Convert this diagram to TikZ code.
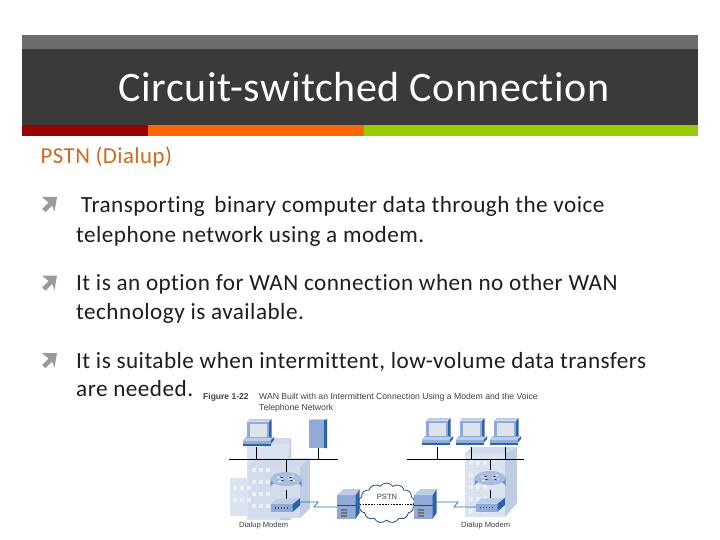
\documentclass[tikz,border=0pt]{standalone}
\usepackage{fontspec}
\setmainfont[Ligatures=NoCommon]{Carlito}
\newfontfamily\spacedbody[Ligatures=NoCommon,LetterSpace=2]{Carlito}
\newfontfamily\spacedtitle[Ligatures=NoCommon,LetterSpace=1.2]{Carlito}
\newfontfamily\spacedsub[Ligatures=NoCommon,LetterSpace=2]{Carlito}
\newfontfamily\figfont{Liberation Sans}
\usetikzlibrary{shapes.symbols,calc}
\definecolor{hdrtop}{HTML}{6D6D6D}
\definecolor{hdr}{HTML}{3A3A3A}
\definecolor{barred}{HTML}{990000}
\definecolor{barorange}{HTML}{FF6600}
\definecolor{bargreen}{HTML}{99CC00}
\definecolor{subtitle}{HTML}{D2691E}
\definecolor{bulletgray}{HTML}{9A9A9A}
\definecolor{bodytext}{HTML}{1E1E1E}
\definecolor{devfront}{HTML}{8FAAD6}
\definecolor{devside}{HTML}{2F62A8}
\definecolor{devtop}{HTML}{BCCDE6}
\definecolor{screen}{HTML}{DDE3EA}
\definecolor{bldfront}{HTML}{DCE3F0}
\definecolor{bldside}{HTML}{BECCE4}
\definecolor{bldtop}{HTML}{D0DAEC}
\definecolor{wan}{HTML}{2F6FA8}
\tikzset{
 x=1pt,y=-1pt,
 body/.style={anchor=base west,inner sep=0pt,text=bodytext,font=\spacedbody\fontsize{23.2}{27}\selectfont},
 figlabel/.style={anchor=base west,inner sep=0pt,text=black!75,font=\figfont\fontsize{8.65}{10}\selectfont},
 smalllabel/.style={anchor=base west,inner sep=0pt,text=black!75,font=\figfont\fontsize{7.6}{9}\selectfont},
 bus/.style={line width=1pt,black},
 drop/.style={line width=0.8pt,black},
 serial/.style={line width=0.7pt,wan},
 pics/bullet/.style={code={
   \fill[bulletgray] (-7.5,-7.5) -- (7.5,-7.5) -- (5,7) -- (2.6,1) -- (-4,7.5) -- (-7.5,4.5) -- (-1,-2) -- cycle;
 }},
 pics/pc/.style={code={
   \fill[devfront] (-11,-15.5) rectangle (11,3);
   \fill[devside] (11,-15.5) -- (13.5,-18) -- (13.5,1) -- (11,3) -- cycle;
   \fill[devtop] (-11,-15.5) -- (-8.5,-18) -- (13.5,-18) -- (11,-15.5) -- cycle;
   \fill[screen] (-8.5,-13.5) rectangle (8.5,0.5);
   \fill[devfront] (-15,4) -- (-12,0) -- (12.5,0) -- (12.5,7) -- (-15,7) -- cycle;
   \fill[devside] (12.5,7) -- (16,3) -- (16,0) -- (12.5,3.5) -- cycle;
   \fill[devtop] (-15,4) -- (-12,1) -- (14,1) -- (12,4) -- cycle;
   \fill[devside] (-15,7) rectangle (12.5,8.5);
 }},
 pics/tower/.style={code={
   \fill[devfront] (-9,-14) rectangle (6,14);
   \fill[devside] (6,-14) -- (9,-15) -- (9,14) -- (6,14) -- cycle;
   \fill[devtop] (-9,-14) -- (-6,-15) -- (9,-15) -- (6,-14) -- cycle;
 }},
 pics/router/.style={code={
   \fill[devfront!60!devside] (-15.5,-2) -- (-15.5,6) arc[start angle=180,end angle=360,x radius=15.5,y radius=6] -- (15.5,-2) -- cycle;
   \fill[devtop!55!devfront] (0,-2) ellipse[x radius=15.5,y radius=7];
   \draw[white,line width=0.8pt] (-9,-4) -- (-3,-2) (3,-2) -- (9,0) (-8,1) -- (-2,-1) (2,-3) -- (8,-5);
   \draw[black,line width=0.5pt] (-6,-4) -- (-3,-3) (4,-1) -- (7,0) (-5,0) -- (-2,-1) (3,-3) -- (6,-4);
 }},
 pics/lanmodem/.style={code={
   \fill[devfront] (-14.5,-1) rectangle (7,7);
   \fill[devside] (7,-1) -- (14.5,-7) -- (14.5,0.5) -- (7,7) -- cycle;
   \fill[devtop] (-14.5,-1) -- (-9,-6) -- (14.5,-7) -- (7,-1) -- cycle;
   \foreach \d in {-11,-8,-5,-2,1}{\fill[black!70] (\d,2.2) rectangle +(1.5,1.5);}
 }},
 pics/wanmodem/.style={code={
   \fill[devfront] (-11.5,-9) rectangle (7,15);
   \fill[devside] (11,-15) -- (11,9) -- (7,15) -- (7,-9) -- cycle;
   \fill[devtop] (-11.5,-9) -- (-5,-15) -- (11,-15) -- (7,-9) -- cycle;
   \fill[devside!80!black] (-11.5,1) rectangle (7,1.6);
   \foreach \d in {5,8,11}{\fill[black!55] (-8,\d) rectangle +(6,1.5);}
 }},
 pics/windows/.style={code={
   \foreach \r in {0,...,#1}{\foreach \c in {0,1,2}{\fill[white!70!bldside] (\c*7,\r*12) rectangle +(4,4);}}
 }}
}
\begin{document}
\begin{tikzpicture}
\useasboundingbox (0,0) rectangle (720,540);
\fill[white] (0,0) rectangle (720,540);
% header
\fill[hdrtop] (22,35) rectangle (698,49);
\fill[hdr] (22,49) rectangle (698,125);
\fill[barred] (22,125) rectangle (148,136);
\fill[barorange] (148,125) rectangle (364,136);
\fill[bargreen] (364,125) rectangle (698,136);
\node[anchor=base,inner sep=0pt,text=white,font=\spacedtitle\fontsize{42}{50}\selectfont] (title) at (364,102) {Circuit-switched Connection};
\node[anchor=base west,inner sep=0pt,text=subtitle,font=\spacedsub\fontsize{22.8}{27}\selectfont] (sub) at (40.5,164) {PSTN (Dialup)};
% bullets
\pic at (49.5,204.5) {bullet};
\pic at (49.5,283) {bullet};
\pic at (49.5,360.5) {bullet};
\node[body] (b1a) at (81,212) {Transporting\, binary computer data through the voice};
\node[body] (b1b) at (76,242) {telephone network using a modem.};
\node[body] (b2a) at (76,290) {It is an option for WAN connection when no other WAN};
\node[body] (b2b) at (76,319) {technology is available.};
\node[body] (b3a) at (76,368) {It is suitable when intermittent, low-volume data transfers};
\node[body] (b3b) at (76,396) {are needed.};
% figure caption
\node[figlabel,font=\figfont\bfseries\fontsize{8.5}{10}\selectfont] (figno) at (203,399) {Figure 1-22};
\node[figlabel] (figa) at (259,399) {WAN Built with an Intermittent Connection Using a Modem and the Voice};
\node[figlabel] (figb) at (259,410) {Telephone Network};
% left building
\fill[bldfront] (247,444) rectangle (291,520);
\fill[bldtop] (247,444) -- (258,438) -- (291,438) -- (291,444) -- cycle;
\fill[bldside] (291,438) -- (291,520) -- (280,520) -- cycle;
\fill[bldfront] (230,478) rectangle (280,516);
\fill[bldfront!70!bldside] (248,466) rectangle (300,518);
\fill[bldside] (300,466) -- (310,458) -- (310,508) -- (300,518) -- cycle;
\fill[bldtop] (248,466) -- (258,458) -- (310,458) -- (300,466) -- cycle;
\pic at (252,468) {windows=3};
\pic at (233,486) {windows=1};
% right building
\fill[bldfront] (465,453) rectangle (505,517);
\fill[bldside] (505,453) -- (517,447) -- (517,503) -- (505,517) -- cycle;
\fill[bldtop] (465,453) -- (472,447) -- (517,447) -- (505,453) -- cycle;
\pic at (469,461) {windows=4};
% LAN hosts
\coordinate (pcL) at (258,437);
\coordinate (towerL) at (318,434);
\coordinate (pc1) at (437,436);
\coordinate (pc2) at (471,436);
\coordinate (pc3) at (505,436);
\coordinate (routerL) at (286,481);
\coordinate (routerR) at (490,480);
\coordinate (lanL) at (285.5,505);
\coordinate (lanR) at (490.5,504.5);
\coordinate (wanL) at (348.5,504);
\coordinate (wanR) at (425.5,504);
\coordinate (busLa) at (229,459);
\coordinate (busLb) at (338,459);
\coordinate (busRa) at (407,459);
\coordinate (busRb) at (524,459);
% cloud
\node[cloud,cloud puffs=13,cloud puff arc=110,aspect=1.3,draw=wan!70!black,line width=0.8pt,fill=white,minimum width=56pt,minimum height=40pt,inner sep=0pt] (cloud) at (386.5,503) {};
\node[inner sep=0pt,text=black!75,font=\figfont\fontsize{7.6}{9}\selectfont] (pstn) at (387,496.5) {PSTN};
% buses and drops
\draw[drop] (256,447) -- (256,459);
\draw[drop] (towerL |- 0,448) -- (towerL |- busLa);
\draw[drop] (routerL |- busLa) -- (routerL |- 0,472);
\draw[drop] (routerL |- 0,490) -- (routerL |- 0,500);
\foreach \p in {pc1,pc2,pc3}{\draw[drop] (\p |- 0,447) -- (\p |- busRa);}
\draw[drop] (routerR |- busRa) -- (routerR |- 0,470);
\draw[drop] (routerR |- 0,490) -- (routerR |- 0,498);
\draw[bus] (busLa) -- (busLb);
\draw[bus] (busRa) -- (busRb);
\draw[dash pattern=on 1.6pt off 1.2pt,line width=0.8pt,black] (wanL) -- (wanR);
% serial links
\draw[serial] (lanL) ++(14,-3) -- (318,502) -- (314,507) -- (337,507);
\draw[serial] (437,502) -- (458,502) -- (454,507) -- (477,507);
% devices
\pic at (pcL) {pc};
\pic at (towerL) {tower};
\pic at (pc1) {pc};
\pic at (pc2) {pc};
\pic at (pc3) {pc};
\pic at (routerL) {router};
\pic at (routerR) {router};
\pic at (lanL) {lanmodem};
\pic at (lanR) {lanmodem};
\pic at (wanL) {wanmodem};
\pic at (wanR) {wanmodem};
\node[smalllabel] (dmL) at (239,527) {Dialup Modem};
\node[smalllabel] (dmR) at (461,527) {Dialup Modem};
\end{tikzpicture}
\end{document}
